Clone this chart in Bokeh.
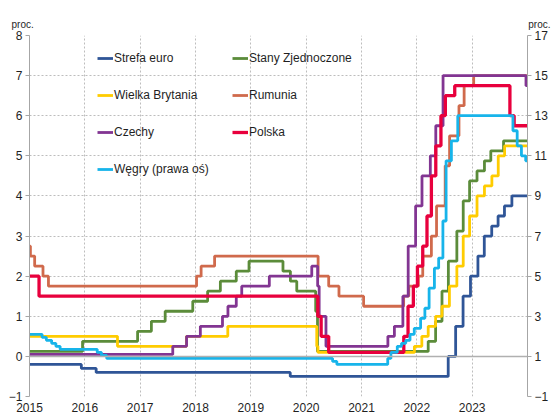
import datetime as dt
from bokeh.plotting import figure
from bokeh.models import Range1d, LinearAxis, FixedTicker, Legend, LegendItem, Span
from bokeh.embed import file_html
from bokeh.resources import INLINE

X_END = "2024-01-01"
year_ticks = [2015, 2016, 2017, 2018, 2019, 2020, 2021, 2022, 2023]
left_ticks = [-1, 0, 1, 2, 3, 4, 5, 6, 7, 8]
right_ticks = [-1, 1, 3, 5, 7, 9, 11, 13, 15, 17]
unit_text = "proc."

euro_dates = ["2015-01-01", "2015-12-09", "2016-03-16", "2019-09-18", "2022-07-27", "2022-09-14",
              "2022-11-02", "2022-12-21", "2023-02-08", "2023-03-22", "2023-05-10", "2023-06-21",
              "2023-08-02", "2023-09-20"]
euro_rates = [-0.20, -0.30, -0.40, -0.50, 0.00, 0.75, 1.50, 2.00, 2.50, 3.00, 3.25, 3.50, 3.75, 4.00]

us_dates = ["2015-01-01", "2015-12-17", "2016-12-15", "2017-03-16", "2017-06-15", "2017-12-14",
            "2018-03-22", "2018-06-14", "2018-09-27", "2018-12-20", "2019-08-01", "2019-09-19",
            "2019-10-31", "2020-03-04", "2020-03-16", "2022-03-17", "2022-05-05", "2022-06-16",
            "2022-07-28", "2022-09-22", "2022-11-03", "2022-12-15", "2023-02-02", "2023-03-23",
            "2023-05-04", "2023-07-27"]
us_rates = [0.125, 0.375, 0.625, 0.875, 1.125, 1.375, 1.625, 1.875, 2.125, 2.375, 2.125, 1.875,
            1.625, 1.125, 0.125, 0.375, 0.875, 1.625, 2.375, 3.125, 3.875, 4.375, 4.625, 4.875,
            5.125, 5.375]

uk_dates = ["2015-01-01", "2016-08-04", "2017-11-02", "2018-08-02", "2020-03-11", "2020-03-19",
            "2021-12-16", "2022-02-03", "2022-03-17", "2022-05-05", "2022-06-16", "2022-08-04",
            "2022-09-22", "2022-11-03", "2022-12-15", "2023-02-02", "2023-03-23", "2023-05-11",
            "2023-06-22", "2023-08-03"]
uk_rates = [0.50, 0.25, 0.50, 0.75, 0.25, 0.10, 0.25, 0.50, 0.75, 1.00, 1.25, 1.75, 2.25, 3.00,
            3.50, 4.00, 4.25, 4.50, 5.00, 5.25]

ro_dates = ["2015-01-01", "2015-01-07", "2015-02-04", "2015-03-31", "2015-05-06", "2018-01-08",
            "2018-02-07", "2018-05-07", "2020-03-20", "2020-05-29", "2020-08-05", "2021-01-15",
            "2021-10-06", "2021-11-09", "2022-01-11", "2022-02-09", "2022-04-07", "2022-05-11",
            "2022-07-07", "2022-08-05", "2022-10-06", "2022-11-09", "2023-01-11"]
ro_rates = [2.75, 2.50, 2.25, 2.00, 1.75, 2.00, 2.25, 2.50, 2.00, 1.75, 1.50, 1.25, 1.50, 1.75,
            2.00, 2.50, 3.00, 3.75, 4.75, 5.50, 6.25, 6.75, 7.00]

cz_dates = ["2015-01-01", "2017-08-04", "2017-11-03", "2018-02-02", "2018-06-28", "2018-08-03",
            "2018-09-27", "2018-11-02", "2019-05-03", "2020-02-07", "2020-03-17", "2020-03-27",
            "2020-05-11", "2021-06-24", "2021-08-06", "2021-10-01", "2021-11-05", "2021-12-24",
            "2022-02-04", "2022-03-31", "2022-05-06", "2022-06-23", "2023-12-22"]
cz_rates = [0.05, 0.25, 0.50, 0.75, 1.00, 1.25, 1.50, 1.75, 2.00, 2.25, 1.75, 1.00, 0.25, 0.50,
            0.75, 1.50, 2.75, 3.75, 4.50, 5.00, 5.75, 7.00, 6.75]

pl_dates = ["2015-01-01", "2015-03-05", "2020-03-18", "2020-04-09", "2020-05-29", "2021-10-07",
            "2021-11-04", "2021-12-09", "2022-01-05", "2022-02-09", "2022-03-09", "2022-04-07",
            "2022-05-06", "2022-06-09", "2022-07-08", "2022-09-08", "2023-09-07", "2023-10-05"]
pl_rates = [2.00, 1.50, 1.00, 0.50, 0.10, 0.50, 1.25, 1.75, 2.25, 2.75, 3.50, 4.50, 5.25, 6.00,
            6.50, 6.75, 6.00, 5.75]

hu_dates = ["2015-01-01", "2015-03-25", "2015-04-22", "2015-05-27", "2015-06-24", "2015-07-22",
            "2016-03-23", "2016-04-20", "2016-05-25", "2020-06-24", "2020-07-22", "2021-06-23",
            "2021-07-14", "2021-08-25", "2021-09-22", "2021-10-20", "2021-11-17", "2021-12-15",
            "2022-01-26", "2022-02-23", "2022-03-23", "2022-04-27", "2022-05-25", "2022-06-22",
            "2022-07-13", "2022-08-17", "2022-09-28", "2023-09-27", "2023-10-25", "2023-11-22",
            "2023-12-20"]
hu_rates = [2.10, 1.95, 1.80, 1.65, 1.50, 1.35, 1.20, 1.05, 0.90, 0.75, 0.60, 0.90, 1.20, 1.50,
            1.65, 1.80, 2.10, 2.40, 2.90, 3.40, 4.40, 5.40, 5.90, 7.75, 10.75, 11.75, 13.00,
            12.25, 11.50, 11.00, 10.75]

series = [
    ("Strefa euro", euro_dates, euro_rates, "#2F5597", 2.8, None),
    ("Stany Zjednoczone", us_dates, us_rates, "#5B8C3A", 2.8, None),
    ("Wielka Brytania", uk_dates, uk_rates, "#FFCC00", 2.8, None),
    ("Rumunia", ro_dates, ro_rates, "#D06A4C", 2.8, None),
    ("Czechy", cz_dates, cz_rates, "#823592", 2.8, None),
    ("Polska", pl_dates, pl_rates, "#E8003D", 3.3, None),
    ("Węgry (prawa oś)", hu_dates, hu_rates, "#17B4EA", 2.8, "right"),
]


def dec_year(s):
    d = dt.date.fromisoformat(s)
    start = dt.date(d.year, 1, 1)
    n = (dt.date(d.year + 1, 1, 1) - start).days
    return d.year + (d - start).days / n


def steps(dates, rates):
    xs = [dec_year(d) for d in dates] + [dec_year(X_END)]
    ys = list(rates) + [rates[-1]]
    return xs, ys


FONT = "Liberation Sans"
TXT = "#1F1F1F"
AX = "#A6A6A6"

p = figure(width=551, height=416, output_backend="svg", toolbar_location=None,
           x_range=Range1d(2015, dec_year(X_END)), y_range=Range1d(-1, 8),
           min_border_left=29, min_border_right=21, min_border_top=35, min_border_bottom=20)
p.extra_y_ranges = {"right": Range1d(-1, 17)}
p.outline_line_color = None
p.background_fill_color = "white"

# "proc." unit captions above the left and the right axis (one title line)
p.title.text = unit_text + "\u00a0" * 178 + unit_text
p.title.align = "left"
p.title.offset = -18
p.title.standoff = 11
p.title.text_font = FONT
p.title.text_font_size = "10px"
p.title.text_font_style = "normal"
p.title.text_color = TXT

# grids
p.xgrid.ticker = FixedTicker(ticks=year_ticks[1:])
p.ygrid.ticker = FixedTicker(ticks=left_ticks)
for g in (p.xgrid, p.ygrid):
    g.grid_line_color = "#BDBDBD"
    g.grid_line_dash = "2 2"
    g.grid_line_width = 1

# bottom axis
xa = p.xaxis[0]
xa.ticker = FixedTicker(ticks=year_ticks)
xa.axis_line_color = None
xa.major_tick_line_color = None
xa.minor_tick_line_color = None
xa.major_tick_out = 0
xa.major_tick_in = 0
xa.major_label_standoff = 6
xa.major_label_text_font = FONT
xa.major_label_text_font_size = "12px"
xa.major_label_text_color = TXT

# left axis
ya = p.yaxis[0]
ya.ticker = FixedTicker(ticks=left_ticks)
ya.axis_line_color = AX
ya.major_tick_line_color = AX
ya.major_tick_out = 4
ya.major_tick_in = 0
ya.minor_tick_line_color = None
ya.major_label_standoff = 3
ya.major_label_text_font = FONT
ya.major_label_text_font_size = "12px"
ya.major_label_text_color = TXT

# right axis
ra = LinearAxis(y_range_name="right", ticker=FixedTicker(ticks=right_ticks))
ra.axis_line_color = AX
ra.major_tick_line_color = AX
ra.major_tick_out = 4
ra.major_tick_in = 0
ra.minor_tick_line_color = None
ra.major_label_standoff = 3
ra.major_label_text_font = FONT
ra.major_label_text_font_size = "12px"
ra.major_label_text_color = TXT
p.add_layout(ra, "right")

p.add_layout(Span(location=0, dimension="width", line_color="#B0B0B0", line_width=1.5))

renderers = {}
for name, dates, rates, color, lw, yr in series:
    xs, ys = steps(dates, rates)
    kw = {"y_range_name": yr} if yr else {}
    r = p.step(xs, ys, mode="after", line_color=color, line_width=lw, **kw)
    renderers[name] = r

col1 = ["Strefa euro", "Wielka Brytania", "Czechy", "Węgry (prawa oś)"]
col2 = ["Stany Zjednoczone", "Rumunia", "Polska"]


def make_legend(names, loc):
    lg = Legend(items=[LegendItem(label=n, renderers=[renderers[n]]) for n in names],
                location=loc, orientation="vertical")
    lg.padding = 0
    lg.margin = 0
    lg.spacing = 23
    lg.glyph_width = 16
    lg.glyph_height = 14
    lg.label_height = 14
    lg.label_standoff = 1
    lg.label_text_font = FONT
    lg.label_text_font_size = "12px"
    lg.label_text_color = TXT
    lg.background_fill_alpha = 0
    lg.border_line_alpha = 0
    return lg


p.add_layout(make_legend(col1, (68, 220)))
p.add_layout(make_legend(col2, (203, 257)))

open("out.html", "w").write(file_html(p, INLINE))
